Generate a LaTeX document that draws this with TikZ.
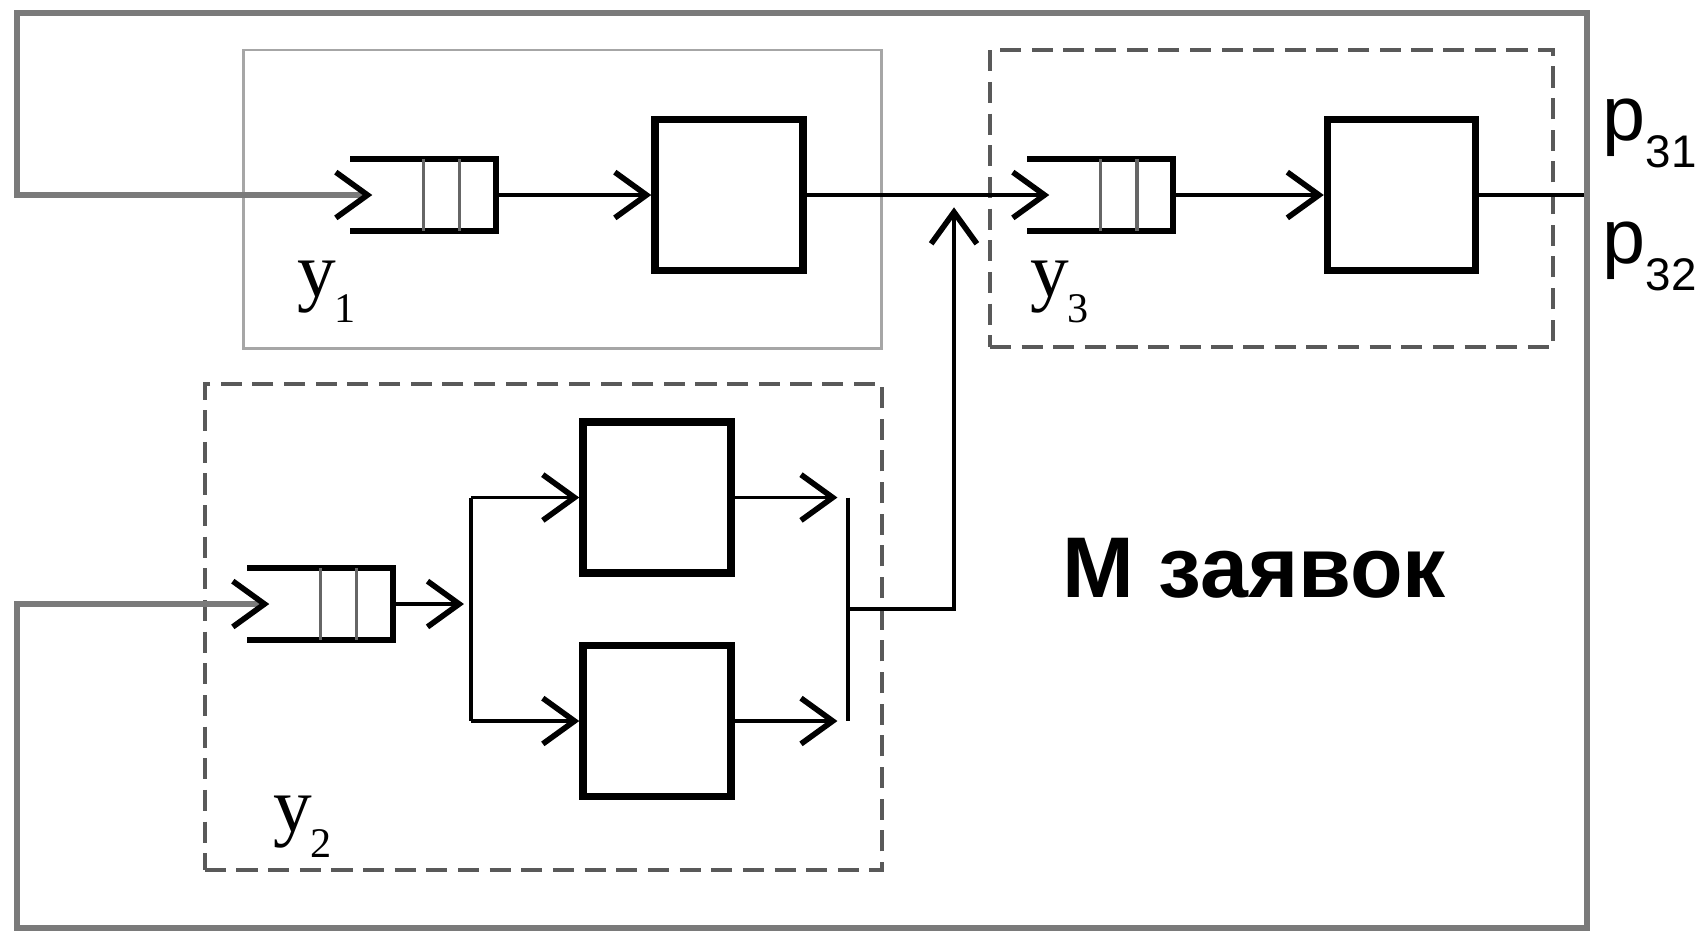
\documentclass[tikz,border=0pt]{standalone}
\usepackage{fontspec}
\setmainfont{Liberation Serif}
\setsansfont{Liberation Sans}
\usetikzlibrary{arrows.meta}

\newcommand\ysub[1]{\hspace{-0.5pt}\raisebox{-7.5pt}{\fontsize{12}{12}\selectfont #1}}
\newcommand\psub[1]{\raisebox{-7.8pt}{\fontsize{13}{13}\selectfont #1}}

\begin{document}
\begin{tikzpicture}[x=0.01cm,y=-0.01cm,
  srv/.style={draw,line width=2.1pt,minimum width=1.48cm,minimum height=1.51cm,inner sep=0},
  que/.style={minimum width=1.44cm,minimum height=0.71cm,inner sep=0},
  qln/.style={line width=1.8pt},qdiv/.style={line width=1pt,black!60},
  ln/.style={line width=1.1pt},
  arr/.style={line width=1.1pt,-{Straight Barb[length=9pt,width=13pt,line width=1.6pt]}},
  fb/.style={line width=1.6pt,black!52,-{Straight Barb[length=9pt,width=13pt,line width=1.6pt,color=black]}},
  grp/.style={draw,line width=1.1pt,black!65,dash pattern=on 6pt off 3pt,inner sep=0},
  lbl/.style={inner sep=0,anchor=base west}]
\useasboundingbox (0,0) rectangle (1704,935);
% subsystems
\node[draw,line width=0.8pt,black!35,inner sep=0,minimum width=6.37cm,minimum height=2.98cm] (u1) at (562.5,199) {};
\node[grp,minimum width=5.63cm,minimum height=2.97cm] (u3) at (1271.5,198.5) {};
\node[grp,minimum width=6.77cm,minimum height=4.86cm] (u2) at (543.5,627) {};
% queues and servers
\node[que] (q1) at (423,195) {};
\node[srv] (s1) at (729,195) {};
\node[que] (q3) at (1100,195) {};
\node[srv] (s3) at (1401.5,195) {};
\node[que] (q2) at (320,604) {};
\node[srv] (s2a) at (657,497.5) {};
\node[srv] (s2b) at (657,721) {};
\foreach \q in {q1,q2,q3}{
  \draw[qln] (\q.north west) -- (\q.north east) -- (\q.south east) -- (\q.south west);
  \draw[qdiv] ([xshift=-0.72cm]\q.north east) -- ([xshift=-0.72cm]\q.south east);
  \draw[qdiv] ([xshift=-0.36cm]\q.north east) -- ([xshift=-0.36cm]\q.south east);
}
\coordinate (sp) at (471,604);
\coordinate (mg) at (848,609);
\coordinate (jn) at (954,195);
\coordinate (out) at (1587,195);
\coordinate (tl) at (17,13);
\coordinate (bl) at (17,928);
% labels
\node[lbl,font=\fontsize{22}{22}\selectfont] (y1) at (297,296) {у\ysub{1}};
\node[lbl,font=\fontsize{22}{22}\selectfont] (y3) at (1030,296) {у\ysub{3}};
\node[lbl,font=\fontsize{22}{22}\selectfont] (y2) at (273,831) {у\ysub{2}};
\node[lbl,font=\sffamily\fontsize{22}{22}\selectfont] (p31) at (1602,140) {p\psub{31}};
\node[lbl,font=\sffamily\fontsize{22}{22}\selectfont] (p32) at (1602,263) {p\psub{32}};
\node[lbl,font=\sffamily\bfseries\fontsize{24.5}{24.5}\selectfont] (mz) at (1062,597) {M заявок};
% connections
\draw[arr] (q1) -- (s1);
\draw[arr] (s1) -- ([xshift=0.22cm]q3.west);
\draw[arr] (q3) -- (s3);
\draw[ln] (s3) -- (out);
\draw[arr,shorten >=2pt] (q2) -- (sp);
\draw[ln] (sp |- s2a) -- (sp |- s2b);
\draw[arr] (sp |- s2a) -- (s2a);
\draw[arr] (sp |- s2b) -- (s2b);
\draw[arr,shorten >=3pt] (s2a) -- (mg |- s2a);
\draw[arr,shorten >=3pt] (s2b) -- (mg |- s2b);
\draw[ln] (mg |- s2a) -- (mg |- s2b);
\draw[arr,shorten >=3.5pt] (mg) -| (jn);
\draw[fb] (out) |- (tl) |- ([xshift=0.22cm]q1.west);
\draw[fb] (out) |- (bl) |- ([xshift=0.22cm]q2.west);
\end{tikzpicture}
\end{document}
